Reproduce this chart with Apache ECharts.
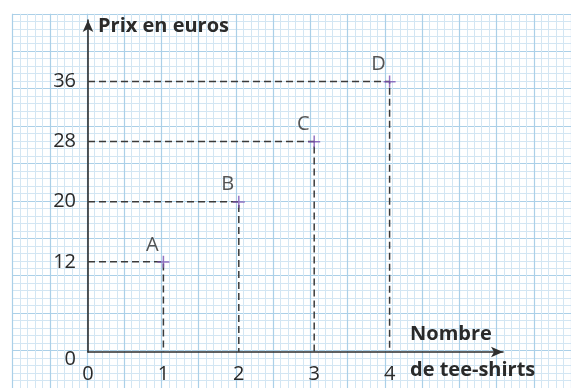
<!DOCTYPE html>
<html>
<head>
<meta charset="utf-8">
<script src="https://cdn.jsdelivr.net/npm/echarts@6/dist/echarts.min.js"></script>
<style>
  html, body { margin: 0; padding: 0; background: #fff; }
  #chart { width: 571px; height: 388px; }
</style>
</head>
<body>
<div id="chart"></div>
<script>
// données du graphique
var pointNames = ['A', 'B', 'C', 'D'];
var teeShirts = [1, 2, 3, 4];
var prix = [12, 20, 28, 36];
var xTicks = [0, 1, 2, 3, 4];
var yTicks = [0, 12, 20, 28, 36];

var font = '"Open Sans", "DejaVu Sans", sans-serif';
var ink = '#2a2a2a';

var chart = echarts.init(document.getElementById('chart'));

// pointillés : (0,y) -> (x,y) -> (x,0)
var dashSeries = [];
for (var i = 0; i < pointNames.length; i++) {
    dashSeries.push({
        type: 'line',
        xAxisIndex: 1,
        yAxisIndex: 1,
        data: [[0, prix[i]], [teeShirts[i], prix[i]], [teeShirts[i], 0]],
        symbol: 'none',
        silent: true,
        lineStyle: { color: '#3a3a3a', width: 1.5, type: [7, 4] },
        z: 3
    });
}

var points = [];
for (var i = 0; i < pointNames.length; i++) {
    points.push({ name: pointNames[i], value: [teeShirts[i], prix[i]] });
}

var option = {
    animation: false,
    backgroundColor: '#fff',
    grid: [
        // papier millimétré
        { left: 12.6, right: -7.1, top: 13.8, bottom: -4.9, show: false },
        // repère
        { left: 88, right: 68, top: 20, bottom: 33, show: false }
    ],
    xAxis: [
        {
            gridIndex: 0, type: 'value', min: -1, max: 6.5, interval: 0.5,
            axisLine: { show: false }, axisTick: { show: false }, axisLabel: { show: false },
            splitLine: { show: true, lineStyle: { color: '#abd0e8', width: 1.2 } },
            minorTick: { show: false, splitNumber: 5 },
            minorSplitLine: { show: true, lineStyle: { color: '#d3e6f3', width: 1 } }
        },
        {
            gridIndex: 1, type: 'value', min: 0, max: 5.504,
            axisLine: {
                show: true, onZero: false,
                symbol: ['none', 'arrow'], symbolSize: [8, 12],
                lineStyle: { color: '#2e2e2e', width: 1.6 }
            },
            axisTick: { show: false },
            splitLine: { show: false },
            axisLabel: {
                customValues: xTicks, margin: 12,
                color: ink, fontFamily: font, fontSize: 20
            },
            name: 'Nombre\nde tee-shirts',
            nameLocation: 'end',
            nameGap: -93,
            nameTextStyle: {
                color: ink, fontFamily: font, fontWeight: 'bold', fontSize: 20,
                align: 'left', verticalAlign: 'middle', lineHeight: 36
            }
        }
    ],
    yAxis: [
        {
            gridIndex: 0, type: 'value', min: -5, max: 45, interval: 5,
            axisLine: { show: false }, axisTick: { show: false }, axisLabel: { show: false },
            splitLine: { show: true, lineStyle: { color: '#abd0e8', width: 1.2 } },
            minorTick: { show: false, splitNumber: 5 },
            minorSplitLine: { show: true, lineStyle: { color: '#d3e6f3', width: 1 } }
        },
        {
            gridIndex: 1, type: 'value', min: 0, max: 44.18,
            axisLine: {
                show: true, onZero: false,
                symbol: ['none', 'arrow'], symbolSize: [8, 12],
                lineStyle: { color: '#2e2e2e', width: 1.6 }
            },
            axisTick: { show: false },
            splitLine: { show: false },
            axisLabel: {
                customValues: yTicks, margin: 12,
                color: ink, fontFamily: font, fontSize: 20,
                formatter: function (v) { return v === 0 ? '{z|0}' : String(v); },
                rich: { z: { padding: [14, 0, 0, 0], fontSize: 20, color: ink, fontFamily: font } }
            },
            name: 'Prix en euros',
            nameLocation: 'end',
            nameGap: -6,
            nameTextStyle: {
                color: ink, fontFamily: font, fontWeight: 'bold', fontSize: 20,
                align: 'left', verticalAlign: 'middle', padding: [0, 0, 0, 10]
            }
        }
    ],
    series: dashSeries.concat([{
        type: 'scatter',
        xAxisIndex: 1,
        yAxisIndex: 1,
        data: points,
        symbol: 'path://M0,5.5H12V7H0Z M5.25,0H6.75V12H5.25Z',
        symbolSize: 12,
        itemStyle: { color: '#7b52b3' },
        label: {
            show: true, position: 'top', distance: 1, offset: [-11, 0],
            formatter: '{b}', color: ink, fontFamily: font, fontSize: 20
        },
        z: 5
    }])
};

chart.setOption(option);
</script>
</body>
</html>
